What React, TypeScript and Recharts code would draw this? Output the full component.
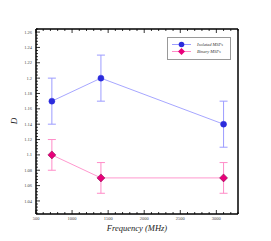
import React from 'react';
import { LineChart, Line, XAxis, YAxis, ErrorBar } from 'recharts';

// values
const frequencies = [720, 1400, 3100];
const isolatedD = [1.17, 1.2, 1.14];
const isolatedErr = [0.03, 0.03, 0.03];
const binaryD = [1.1, 1.07, 1.07];
const binaryErr = [0.02, 0.02, 0.02];

const xMajor = [500, 1000, 1500, 2000, 2500, 3000];
const yMajor = [1.04, 1.06, 1.08, 1.1, 1.12, 1.14, 1.16, 1.18, 1.2, 1.22, 1.24, 1.26];

const xTicks: number[] = [];
for (let v = 500; v <= 3300; v += 100) xTicks.push(v);
const yTicks: number[] = [];
for (let i = 0; i <= 60; i++) yTicks.push(Math.round((1.024 + i * 0.004) * 1000) / 1000);

const data = frequencies.map((f, i) => ({
  f,
  iso: isolatedD[i],
  isoErr: isolatedErr[i],
  bin: binaryD[i],
  binErr: binaryErr[i],
}));

const ISO_LINE = '#9c9cff';
const ISO_DOT = '#2b2bdc';
const BIN_LINE = '#ff8cc8';
const BIN_DOT = '#e8007a';
const FONT = '"Liberation Serif", "DejaVu Serif", serif';

const isMajorX = (v: number) => xMajor.includes(v);
const isMajorY = (v: number) => yMajor.some((m) => Math.abs(m - v) < 1e-6);

const fmtY = (v: number) => String(parseFloat(v.toFixed(2)));

const XTick = (side: 'bottom' | 'top') => (props: any) => {
  const { x, y, payload } = props;
  const major = isMajorX(payload.value);
  const len = major ? 4 : 2;
  const y0 = side === 'bottom' ? 214 : 29;
  const dir = side === 'bottom' ? -1 : 1;
  return (
    <g>
      <line x1={x} y1={y0} x2={x} y2={y0 + dir * len} stroke="#000" strokeWidth={0.8} />
      {side === 'bottom' && major && (
        <text x={x} y={y0 + 6} textAnchor="middle" fontSize={4.5} fontFamily={FONT} fill="#444">
          {payload.value}
        </text>
      )}
    </g>
  );
};

const YTick = (side: 'left' | 'right') => (props: any) => {
  const { y, payload } = props;
  const major = isMajorY(payload.value);
  const len = major ? 4 : 2;
  const x0 = side === 'left' ? 36 : 238;
  const dir = side === 'left' ? 1 : -1;
  return (
    <g>
      <line x1={x0} y1={y} x2={x0 + dir * len} y2={y} stroke="#000" strokeWidth={0.8} />
      {side === 'left' && major && (
        <text x={x0 - 4} y={y + 1.6} textAnchor="end" fontSize={4.5} fontFamily={FONT} fill="#444">
          {fmtY(payload.value)}
        </text>
      )}
    </g>
  );
};

const Diamond = (props: any) => {
  const { cx, cy } = props;
  if (cx == null || cy == null) return null;
  const r = 4;
  return (
    <polygon
      points={`${cx},${cy - r} ${cx + r},${cy} ${cx},${cy + r} ${cx - r},${cy}`}
      fill={BIN_DOT}
      stroke="#7a0040"
      strokeWidth={0.5}
    />
  );
};

const LegendBox = () => (
  <svg width={65} height={24} style={{ display: 'block' }}>
    <rect x={0.5} y={0.5} width={63} height={22} fill="#fff" stroke="#999" strokeWidth={1} />
    <line x1={5} y1={7.5} x2={24} y2={7.5} stroke={ISO_LINE} strokeWidth={1} />
    <circle cx={14.5} cy={7.5} r={2.8} fill={ISO_DOT} />
    <text x={30} y={9} fontSize={4.5} fontStyle="italic" fontFamily={FONT} fill="#333">
      Isolated MSPs
    </text>
    <line x1={5} y1={14.5} x2={24} y2={14.5} stroke={BIN_LINE} strokeWidth={1} />
    <polygon points="14.5,11 18,14.5 14.5,18 11,14.5" fill={BIN_DOT} />
    <text x={30} y={16} fontSize={4.5} fontStyle="italic" fontFamily={FONT} fill="#333">
      Binary MSPs
    </text>
  </svg>
);

export default function App() {
  const axisLine = { stroke: '#000', strokeWidth: 1.5 };
  return (
    <div style={{ position: 'absolute', left: 0, top: 0, width: 271, height: 241, background: '#fff' }}>
      <LineChart
        width={271}
        height={241}
        data={data}
        margin={{ top: 28, right: 32, left: 35, bottom: 26 }}
      >
        <XAxis
          xAxisId="b"
          dataKey="f"
          type="number"
          domain={[500, 3300]}
          ticks={xTicks}
          interval={0}
          height={1}
          tickSize={0}
          tickMargin={0}
          tickLine={false}
          axisLine={axisLine}
          tick={XTick('bottom')}
        />
        <XAxis
          xAxisId="t"
          dataKey="f"
          type="number"
          orientation="top"
          domain={[500, 3300]}
          ticks={xTicks}
          interval={0}
          height={1}
          tickSize={0}
          tickMargin={0}
          tickLine={false}
          axisLine={axisLine}
          tick={XTick('top')}
        />
        <YAxis
          yAxisId="l"
          type="number"
          domain={[1.023, 1.264]}
          ticks={yTicks}
          interval={0}
          width={1}
          tickSize={0}
          tickMargin={0}
          tickLine={false}
          axisLine={axisLine}
          tick={YTick('left')}
        />
        <YAxis
          yAxisId="r"
          orientation="right"
          type="number"
          domain={[1.023, 1.264]}
          ticks={yTicks}
          interval={0}
          width={1}
          tickSize={0}
          tickMargin={0}
          tickLine={false}
          axisLine={axisLine}
          tick={YTick('right')}
        />
        <Line
          xAxisId="b"
          yAxisId="l"
          type="linear"
          dataKey="iso"
          name="Isolated MSPs"
          stroke={ISO_LINE}
          strokeWidth={0.9}
          dot={{ r: 3, fill: ISO_DOT, stroke: ISO_DOT, strokeWidth: 0.5 }}
          isAnimationActive={false}
        >
          <ErrorBar dataKey="isoErr" direction="y" width={4} stroke={ISO_LINE} strokeWidth={1} />
        </Line>
        <Line
          xAxisId="b"
          yAxisId="l"
          type="linear"
          dataKey="bin"
          name="Binary MSPs"
          stroke={BIN_LINE}
          strokeWidth={0.9}
          dot={<Diamond />}
          isAnimationActive={false}
        >
          <ErrorBar dataKey="binErr" direction="y" width={4} stroke={BIN_LINE} strokeWidth={1} />
        </Line>
        <text
          x={17}
          y={121}
          transform="rotate(-90 17 121)"
          textAnchor="middle"
          fontSize={9}
          fontStyle="italic"
          fontFamily={FONT}
          fill="#222"
        >
          D
        </text>
        <text
          x={137}
          y={231}
          textAnchor="middle"
          fontSize={8.5}
          fontStyle="italic"
          fontFamily={FONT}
          fill="#222"
        >
          Frequency (MHz)
        </text>
      </LineChart>
      <div style={{ position: 'absolute', left: 167, top: 37 }}>
        <LegendBox />
      </div>
    </div>
  );
}
